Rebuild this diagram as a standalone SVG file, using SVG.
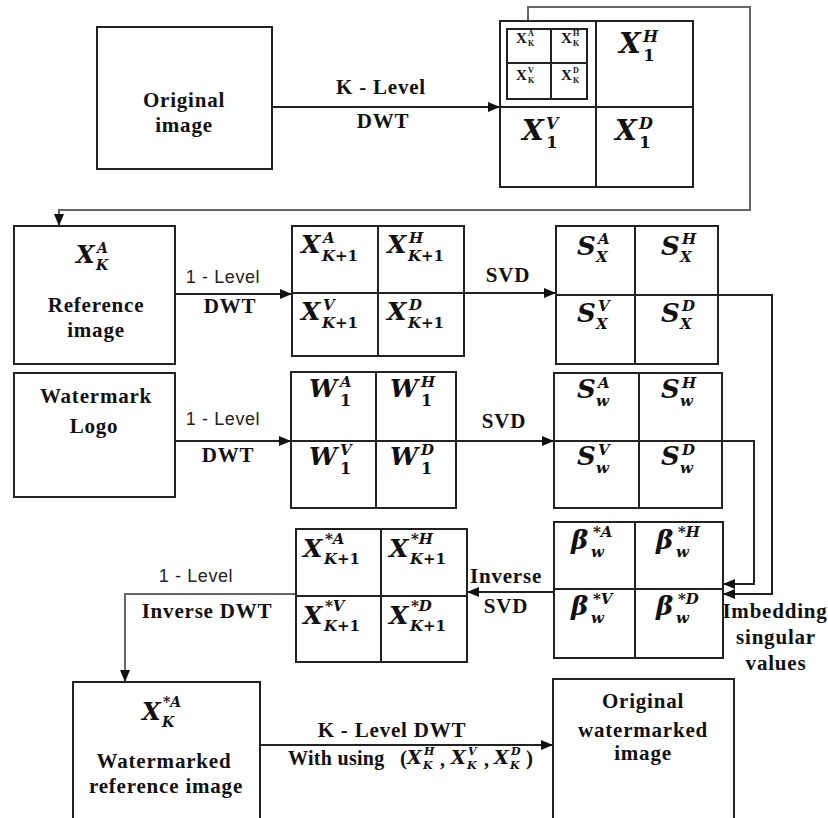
<svg xmlns="http://www.w3.org/2000/svg" width="828" height="818" viewBox="0 0 828 818">
<style>
.box{fill:#fff;stroke:#222;stroke-width:2}
.gl{fill:none;stroke:#222;stroke-width:2}
.conn{fill:none;stroke:#222;stroke-width:2}
.gray{stroke:#666}
.t{font-family:"Liberation Serif",serif;font-weight:bold;font-size:21px;fill:#111;text-anchor:middle;letter-spacing:0.8px}
.s{font-family:"Liberation Sans",sans-serif;font-size:18px;fill:#222;text-anchor:middle;letter-spacing:0.6px}
.m{font-family:"DejaVu Serif",serif;font-weight:bold;font-style:italic;fill:#111}
.u{font-style:normal}
.sm{font-family:"Liberation Serif",serif;font-weight:bold;fill:#111}
</style>
<defs>
<marker id="ah" markerWidth="12" markerHeight="10" refX="12" refY="5" orient="auto" markerUnits="userSpaceOnUse">
<path d="M0,0 L12,5 L0,10 z" fill="#111"/>
</marker>
</defs>
<rect width="828" height="818" fill="#fff"/>

<g id="connectors">
<line class="conn" x1="272" y1="107" x2="500" y2="107" marker-end="url(#ah)"/>
<polyline class="conn gray" points="528,29 528,7 750,7 750,210 59,210 59,226" marker-end="url(#ah)"/>
<line class="conn" x1="175" y1="294" x2="292" y2="294" marker-end="url(#ah)"/>
<line class="conn" x1="464" y1="293" x2="556" y2="293" marker-end="url(#ah)"/>
<line class="conn" x1="175" y1="441" x2="291" y2="441" marker-end="url(#ah)"/>
<line class="conn" x1="456" y1="441" x2="554" y2="441" marker-end="url(#ah)"/>
<polyline class="conn" points="718,295 772,295 772,594 723,594" marker-end="url(#ah)"/>
<polyline class="conn" points="722,441 754,441 754,584 723,584" marker-end="url(#ah)"/>
<line class="conn" x1="554" y1="592" x2="467" y2="592" marker-end="url(#ah)"/>
<polyline class="conn gray" points="296,594 125,594 125,682" marker-end="url(#ah)"/>
<line class="conn" x1="260" y1="745" x2="553" y2="745" marker-end="url(#ah)"/>
<text class="t" x="381" y="94">K - Level</text>
<text class="t" x="383" y="128">DWT</text>
<text class="s" x="223" y="283">1 - Level</text>
<text class="t" x="230" y="313">DWT</text>
<text class="s" x="223" y="425">1 - Level</text>
<text class="t" x="228" y="462">DWT</text>
<text class="t" x="508" y="282">SVD</text>
<text class="t" x="504" y="428">SVD</text>
<text class="t" x="506" y="583">Inverse</text>
<text class="t" x="506" y="613">SVD</text>
<text class="s" x="196" y="582">1 - Level</text>
<text class="t" x="207" y="618">Inverse DWT</text>
<text class="t" x="775" y="618" font-size="19.5" letter-spacing="0">Imbedding</text>
<text class="t" x="776" y="644" font-size="20">singular</text>
<text class="t" x="776" y="670" font-size="20">values</text>
<text class="t" x="392" y="737">K - Level DWT</text>
<text class="sm" x="288" y="765" font-size="20" letter-spacing="0.3">With using</text>
<text class="sm" x="400" y="765" font-size="21" font-weight="normal">(</text>
<text class="m"><tspan x="407" y="764" font-size="19">X</tspan><tspan x="424" y="755" font-size="11">H</tspan><tspan x="423" y="769" font-size="11">K</tspan></text>
<text class="sm" x="440" y="766" font-size="20">,</text>
<text class="m"><tspan x="451" y="764" font-size="19">X</tspan><tspan x="468" y="755" font-size="11">V</tspan><tspan x="467" y="769" font-size="11">K</tspan></text>
<text class="sm" x="484" y="766" font-size="20">,</text>
<text class="m"><tspan x="494" y="764" font-size="19">X</tspan><tspan x="511" y="755" font-size="11">D</tspan><tspan x="510" y="769" font-size="11">K</tspan></text>
<text class="sm" x="526" y="765" font-size="21" font-weight="normal">)</text>
</g>

<g id="original">
<rect class="box" x="97" y="27" width="175" height="142"/>
<text class="t" x="184" y="107">Original</text>
<text class="t" x="184" y="132">image</text>
</g>

<g id="kdwt-grid">
<rect class="box" x="500" y="21" width="193" height="166"/>
<line class="gl" x1="596" y1="21" x2="596" y2="187"/>
<line class="gl" x1="500" y1="107" x2="693" y2="107"/>
<rect class="box" x="507" y="29" width="80" height="70"/>
<line class="gl" x1="551" y1="29" x2="551" y2="99"/>
<line class="gl" x1="507" y1="63" x2="587" y2="63"/>
<text class="sm" font-weight="normal"><tspan x="516" y="43" font-size="15">X</tspan><tspan x="528" y="36" font-size="8">A</tspan><tspan x="528" y="46" font-size="8">K</tspan></text>
<text class="sm" font-weight="normal"><tspan x="561" y="43" font-size="15">X</tspan><tspan x="573" y="36" font-size="8">H</tspan><tspan x="573" y="46" font-size="8">K</tspan></text>
<text class="sm" font-weight="normal"><tspan x="516" y="80" font-size="15">X</tspan><tspan x="528" y="73" font-size="8">V</tspan><tspan x="528" y="83" font-size="8">K</tspan></text>
<text class="sm" font-weight="normal"><tspan x="561" y="80" font-size="15">X</tspan><tspan x="573" y="73" font-size="8">D</tspan><tspan x="573" y="83" font-size="8">K</tspan></text>
<text class="m"><tspan x="619" y="53" font-size="28">X</tspan><tspan x="643" y="42" font-size="16">H</tspan><tspan class="u" x="643" y="61" font-size="17">1</tspan></text>
<text class="m"><tspan x="522" y="140" font-size="28">X</tspan><tspan x="546" y="129" font-size="16">V</tspan><tspan class="u" x="546" y="148" font-size="17">1</tspan></text>
<text class="m"><tspan x="615" y="140" font-size="28">X</tspan><tspan x="639" y="129" font-size="16">D</tspan><tspan class="u" x="639" y="148" font-size="17">1</tspan></text>
</g>

<g id="reference">
<rect class="box" x="14" y="226" width="161" height="138"/>
<text class="m"><tspan x="76" y="263" font-size="24">X</tspan><tspan x="97" y="253" font-size="14">A</tspan><tspan x="96" y="270" font-size="14">K</tspan></text>
<text class="t" x="96" y="312">Reference</text>
<text class="t" x="96" y="337">image</text>
</g>

<g id="x-k1-grid">
<rect class="box" x="292" y="226" width="172" height="130"/>
<line class="gl" x1="378" y1="226" x2="378" y2="356"/>
<line class="gl" x1="292" y1="293" x2="464" y2="293"/>
<text class="m"><tspan x="301" y="253" font-size="25">X</tspan><tspan x="323" y="243" font-size="15">A</tspan><tspan x="322" y="261" font-size="15">K</tspan><tspan class="u" font-size="15">+1</tspan></text>
<text class="m"><tspan x="387" y="253" font-size="25">X</tspan><tspan x="409" y="243" font-size="15">H</tspan><tspan x="408" y="261" font-size="15">K</tspan><tspan class="u" font-size="15">+1</tspan></text>
<text class="m"><tspan x="301" y="320" font-size="25">X</tspan><tspan x="323" y="310" font-size="15">V</tspan><tspan x="322" y="328" font-size="15">K</tspan><tspan class="u" font-size="15">+1</tspan></text>
<text class="m"><tspan x="387" y="320" font-size="25">X</tspan><tspan x="409" y="310" font-size="15">D</tspan><tspan x="408" y="328" font-size="15">K</tspan><tspan class="u" font-size="15">+1</tspan></text>
</g>

<g id="sx-grid">
<rect class="box" x="556" y="226" width="162" height="138"/>
<line class="gl" x1="635" y1="226" x2="635" y2="364"/>
<line class="gl" x1="556" y1="295" x2="718" y2="295"/>
<text class="m"><tspan x="577" y="255" font-size="26">S</tspan><tspan x="598" y="244" font-size="15">A</tspan><tspan x="596" y="262" font-size="15">X</tspan></text>
<text class="m"><tspan x="661" y="255" font-size="26">S</tspan><tspan x="682" y="244" font-size="15">H</tspan><tspan x="680" y="262" font-size="15">X</tspan></text>
<text class="m"><tspan x="577" y="322" font-size="26">S</tspan><tspan x="598" y="311" font-size="15">V</tspan><tspan x="596" y="329" font-size="15">X</tspan></text>
<text class="m"><tspan x="661" y="322" font-size="26">S</tspan><tspan x="682" y="311" font-size="15">D</tspan><tspan x="680" y="329" font-size="15">X</tspan></text>
</g>

<g id="watermark">
<rect class="box" x="14" y="373" width="161" height="124"/>
<text class="t" x="96" y="403">Watermark</text>
<text class="t" x="94" y="433">Logo</text>
</g>

<g id="w-grid">
<rect class="box" x="291" y="372" width="165" height="136"/>
<line class="gl" x1="376" y1="372" x2="376" y2="508"/>
<line class="gl" x1="291" y1="441" x2="456" y2="441"/>
<text class="m"><tspan x="309" y="397" font-size="25">W</tspan><tspan x="340" y="387" font-size="15">A</tspan><tspan class="u" x="340" y="406" font-size="16">1</tspan></text>
<text class="m"><tspan x="390" y="397" font-size="25">W</tspan><tspan x="421" y="387" font-size="15">H</tspan><tspan class="u" x="421" y="406" font-size="16">1</tspan></text>
<text class="m"><tspan x="309" y="465" font-size="25">W</tspan><tspan x="340" y="455" font-size="15">V</tspan><tspan class="u" x="340" y="474" font-size="16">1</tspan></text>
<text class="m"><tspan x="390" y="465" font-size="25">W</tspan><tspan x="421" y="455" font-size="15">D</tspan><tspan class="u" x="421" y="474" font-size="16">1</tspan></text>
</g>

<g id="sw-grid">
<rect class="box" x="554" y="373" width="168" height="135"/>
<line class="gl" x1="639" y1="373" x2="639" y2="508"/>
<line class="gl" x1="554" y1="441" x2="722" y2="441"/>
<text class="m"><tspan x="577" y="398" font-size="26">S</tspan><tspan x="598" y="388" font-size="15">A</tspan><tspan x="596" y="406" font-size="15">w</tspan></text>
<text class="m"><tspan x="661" y="398" font-size="26">S</tspan><tspan x="682" y="388" font-size="15">H</tspan><tspan x="680" y="406" font-size="15">w</tspan></text>
<text class="m"><tspan x="577" y="465" font-size="26">S</tspan><tspan x="598" y="455" font-size="15">V</tspan><tspan x="596" y="473" font-size="15">w</tspan></text>
<text class="m"><tspan x="661" y="465" font-size="26">S</tspan><tspan x="682" y="455" font-size="15">D</tspan><tspan x="680" y="473" font-size="15">w</tspan></text>
</g>

<g id="beta-grid">
<rect class="box" x="554" y="522" width="169" height="136"/>
<line class="gl" x1="635" y1="522" x2="635" y2="658"/>
<line class="gl" x1="554" y1="589" x2="723" y2="589"/>
<text class="m"><tspan x="571" y="549" font-size="26">β</tspan><tspan x="593" y="537" font-size="15">*A</tspan><tspan x="591" y="557" font-size="15">w</tspan></text>
<text class="m"><tspan x="656" y="549" font-size="26">β</tspan><tspan x="678" y="537" font-size="15">*H</tspan><tspan x="676" y="557" font-size="15">w</tspan></text>
<text class="m"><tspan x="571" y="615" font-size="26">β</tspan><tspan x="593" y="604" font-size="15">*V</tspan><tspan x="591" y="623" font-size="15">w</tspan></text>
<text class="m"><tspan x="656" y="615" font-size="26">β</tspan><tspan x="678" y="604" font-size="15">*D</tspan><tspan x="676" y="623" font-size="15">w</tspan></text>
</g>

<g id="xstar-grid">
<rect class="box" x="296" y="529" width="171" height="133"/>
<line class="gl" x1="381" y1="529" x2="381" y2="662"/>
<line class="gl" x1="296" y1="596" x2="467" y2="596"/>
<text class="m"><tspan x="303" y="557" font-size="25">X</tspan><tspan x="325" y="544" font-size="15">*A</tspan><tspan x="324" y="564" font-size="15">K</tspan><tspan class="u" font-size="15">+1</tspan></text>
<text class="m"><tspan x="389" y="557" font-size="25">X</tspan><tspan x="411" y="544" font-size="15">*H</tspan><tspan x="410" y="564" font-size="15">K</tspan><tspan class="u" font-size="15">+1</tspan></text>
<text class="m"><tspan x="303" y="624" font-size="25">X</tspan><tspan x="325" y="611" font-size="15">*V</tspan><tspan x="324" y="631" font-size="15">K</tspan><tspan class="u" font-size="15">+1</tspan></text>
<text class="m"><tspan x="389" y="624" font-size="25">X</tspan><tspan x="411" y="611" font-size="15">*D</tspan><tspan x="410" y="631" font-size="15">K</tspan><tspan class="u" font-size="15">+1</tspan></text>
</g>

<g id="watermarked-reference">
<rect class="box" x="73" y="682" width="187" height="140"/>
<text class="m"><tspan x="142" y="720" font-size="24">X</tspan><tspan x="163" y="707" font-size="14">*A</tspan><tspan x="162" y="727" font-size="14">K</tspan></text>
<text class="t" x="164" y="768">Watermarked</text>
<text class="t" x="166" y="793" letter-spacing="0">reference image</text>
</g>

<g id="original-watermarked">
<rect class="box" x="553" y="679" width="181" height="143"/>
<text class="t" x="643" y="708">Original</text>
<text class="t" x="643" y="737">watermarked</text>
<text class="t" x="643" y="760">image</text>
</g>
</svg>
